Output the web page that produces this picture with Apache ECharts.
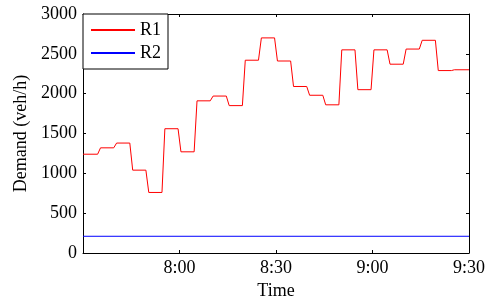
<!DOCTYPE html>
<html>
<head>
<meta charset="utf-8">
<script src="https://cdn.jsdelivr.net/npm/echarts@6/dist/echarts.min.js"></script>
<style>
	html, body { margin: 0; padding: 0; background: #fff; }
	#chart { width: 490px; height: 302px; }
</style>
</head>
<body>
<div id="chart"></div>
<script>
	// minutes after 7:30, one demand level per 5 min slot
	var slotStart = [0, 5, 10, 15, 20, 25, 30, 35, 40, 45, 50, 55, 60, 65, 70, 75, 80, 85, 90, 95, 100, 105, 110, 115];
	var r1Values = [1240, 1320, 1380, 1040, 760, 1560, 1270, 1910, 1970, 1850, 2420, 2700, 2410, 2090, 1980, 1860, 2550, 2050, 2550, 2370, 2560, 2670, 2290, 2300];
	var r2Value = 210;
	var xTicks = [0, 30, 60, 90, 120];
	var xTickLabels = ['', '8:00', '8:30', '9:00', '9:30'];

	var font = 'Liberation Serif';
	var fs = 18;

	// step line: each level held for its slot, short ramp to the next
	var r1Data = [];
	for (var i = 0; i < slotStart.length; i++) {
		var a = slotStart[i] + (i == 0 ? 0 : 0.45);
		var b = slotStart[i] + 5 - (i == slotStart.length - 1 ? 0 : 0.45);
		r1Data.push([a, r1Values[i]]);
		r1Data.push([b, r1Values[i]]);
	}
	var r2Data = [[xTicks[0], r2Value], [xTicks[xTicks.length - 1], r2Value]];

	function xLabel(v) {
		var idx = xTicks.indexOf(v);
		return idx < 0 ? '' : xTickLabels[idx];
	}

	var mycharts = echarts.init(document.getElementById('chart'));
	var axisBase = {
		axisLine: { show: true, onZero: false, lineStyle: { color: '#000', width: 1 } },
		axisTick: { show: true, inside: true, length: 3, lineStyle: { color: '#000' } },
		splitLine: { show: false }
	};
	var options = {
		animation: false,
		backgroundColor: '#fff',
		textStyle: { fontFamily: font },
		grid: { left: 83, right: 21, top: 14, bottom: 49, containLabel: false, outerBoundsMode: 'none' },
		legend: {
			left: 83,
			top: 14,
			orient: 'vertical',
			backgroundColor: '#fff',
			borderColor: '#000',
			borderWidth: 1,
			borderRadius: 0,
			padding: [7, 7, 7, 8],
			itemWidth: 44,
			itemHeight: 2,
			itemGap: 5,
			icon: 'rect',
			textStyle: { fontFamily: font, fontSize: fs, color: '#000' },
			data: [
				{ name: 'R1', itemStyle: { color: '#ff0000' } },
				{ name: 'R2', itemStyle: { color: '#0000ff' } }
			]
		},
		xAxis: [
			Object.assign({}, axisBase, {
				type: 'value',
				min: 0, max: 120, interval: 30,
				position: 'bottom',
				name: 'Time',
				nameLocation: 'middle',
				nameGap: 28,
				nameTextStyle: { fontFamily: font, fontSize: fs, color: '#000' },
				axisLabel: { fontFamily: font, fontSize: fs, color: '#000', margin: 6, formatter: xLabel }
			}),
			Object.assign({}, axisBase, {
				type: 'value',
				min: 0, max: 120, interval: 30,
				position: 'top',
				axisLabel: { show: false }
			})
		],
		yAxis: [
			Object.assign({}, axisBase, {
				type: 'value',
				min: 0, max: 3000, interval: 500,
				position: 'left',
				name: 'Demand (veh/h)',
				nameLocation: 'middle',
				nameGap: 52,
				nameTextStyle: { fontFamily: font, fontSize: fs, color: '#000' },
				axisLabel: { fontFamily: font, fontSize: fs, color: '#000', margin: 6, formatter: function (v) { return String(v); } }
			}),
			Object.assign({}, axisBase, {
				type: 'value',
				min: 0, max: 3000, interval: 500,
				position: 'right',
				axisLabel: { show: false }
			})
		],
		series: [{
			name: 'R1',
			type: 'line',
			data: r1Data,
			showSymbol: false,
			symbol: 'none',
			lineStyle: { color: '#ff0000', width: 1 },
			itemStyle: { color: '#ff0000' }
		}, {
			name: 'R2',
			type: 'line',
			data: r2Data,
			showSymbol: false,
			symbol: 'none',
			lineStyle: { color: '#0000ff', width: 1 },
			itemStyle: { color: '#0000ff' }
		}]
	};
	mycharts.setOption(options);
</script>
</body>
</html>
